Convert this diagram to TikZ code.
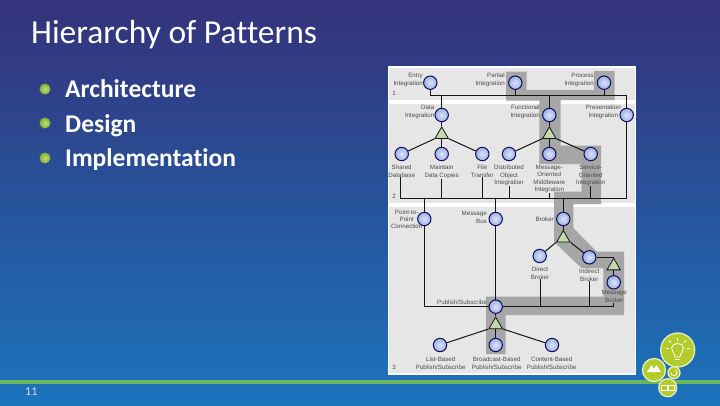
\documentclass[tikz,border=0pt]{standalone}
\usepackage{fontspec}
\setmainfont{Liberation Sans}
\newfontfamily\slidefont[Ligatures=NoCommon]{Carlito}
\usetikzlibrary{shapes.geometric}
\definecolor{hlgray}{HTML}{A6A6A6}
\definecolor{panelgray}{HTML}{E6E6E6}
\definecolor{linecol}{HTML}{141414}
\definecolor{labelcol}{HTML}{4A4A4A}
\definecolor{triFill}{HTML}{C4D8AE}
\definecolor{discOut}{HTML}{9DB0E4}
\definecolor{discIn}{HTML}{DDE4F8}
\definecolor{iconFill}{HTML}{B4CB2C}
\definecolor{iconEdge}{HTML}{E6EFC0}
\definecolor{bulletIn}{HTML}{C4E07A}
\definecolor{bulletOut}{HTML}{7FAE34}
\definecolor{bgTop}{RGB}{52,50,122}
\definecolor{bgMid}{RGB}{44,84,152}
\definecolor{bgBot}{RGB}{27,116,188}
\definecolor{footGreen}{RGB}{109,181,90}
\tikzset{
  disc/.style={circle,draw=linecol!70!blue,line width=1pt,inner color=discIn,outer color=discOut,minimum size=13.4pt,inner sep=0pt},
  tri/.style={regular polygon,regular polygon sides=3,draw=linecol,line width=.8pt,fill=triFill,minimum size=15.4pt,inner sep=0pt},
  lbl/.style={font=\fontsize{6.2}{7.4}\selectfont,text=labelcol,align=center,inner sep=0pt},
  lblr/.style={lbl,align=right,anchor=east},
  wire/.style={draw=linecol,line width=1pt},
  panel/.style={fill=panelgray,draw=none},
  bullet/.style={circle,inner sep=0pt,minimum size=11pt,inner color=bulletIn,outer color=bulletOut},
  bodytext/.style={font=\slidefont\fontsize{25.5}{28}\selectfont\bfseries,text=white,anchor=base west,inner sep=0pt},
  icon/.style={circle,fill=iconFill,draw=iconEdge,line width=1.3pt,inner sep=0pt},
  glyph/.style={draw=white,line width=1pt}
}
\begin{document}
\begin{tikzpicture}[x=1pt,y=-1pt]
\useasboundingbox (0,0) rectangle (720,405);
\shade[top color=bgTop,middle color=bgMid,bottom color=bgBot] (0,0) rectangle (720,405);
\fill[footGreen] (0,380) rectangle (720,384);
\node[font=\slidefont\fontsize{33.5}{38}\selectfont,text=white,anchor=base west,inner sep=0pt] (title) at (31,43.5) {Hierarchy of Patterns};
\node[bullet] (b1) at (45,89) {};
\node[bullet] (b2) at (45,123) {};
\node[bullet] (b3) at (45,158) {};
\node[bodytext] (t1) at (65,97.5) {Architecture};
\node[bodytext] (t2) at (65,132) {Design};
\node[bodytext] (t3) at (65,166.5) {Implementation};
\node[font=\slidefont\fontsize{12}{14}\selectfont,text=white!85!blue,anchor=base west,inner sep=0pt] (pg) at (25,395) {11};
% card
\fill[white] (388,66) rectangle (636,375);
\fill[panel] (389,68) rectangle (635,100);
\fill[panel] (389,103.5) rectangle (635,202.5);
\fill[panel] (389,207) rectangle (635,373);
% highlight
\fill[hlgray] (506,71.7) -- (526.7,71.7) -- (526.7,90) -- (594,90) -- (594,71) -- (614.7,71) -- (614.7,100) -- (560.7,100) -- (560.7,145.7) -- (601,145.7) -- (601,204) -- (573.3,204) -- (573.3,228) -- (596.7,251.7) -- (624,251.7) -- (624,315) -- (505.7,315) -- (505.7,354) -- (486,354) -- (486,296.7) -- (603.3,296.7) -- (603.3,268.3) -- (581.7,268.3) -- (554,241.7) -- (554,191.7) -- (581.7,191.7) -- (581.7,164) -- (539.3,164) -- (539.3,100.7) -- (506,100.7) -- cycle;
% nodes
\node[disc] (entry) at (430.3,82.7) {};
\node[disc] (partial) at (515.3,82.7) {};
\node[disc] (process) at (604,82.7) {};
\node[disc] (data) at (441.7,115) {};
\node[disc] (functional) at (549.3,115) {};
\node[disc] (presentation) at (626.7,115) {};
\node[tri] (triA) at (441.7,134.6) {};
\node[tri] (triB) at (549.3,134.6) {};
\node[disc] (shared) at (401.7,154) {};
\node[disc] (maintain) at (441.7,154) {};
\node[disc] (file) at (482.3,154) {};
\node[disc] (distributed) at (509,154) {};
\node[disc] (mom) at (549.3,154) {};
\node[disc] (soi) at (590.7,154) {};
\node[disc] (p2p) at (424.3,219) {};
\node[disc] (bus) at (495.7,219) {};
\node[disc] (broker) at (563.3,219) {};
\node[tri] (triC) at (563.3,238.2) {};
\node[disc] (direct) at (539.7,256) {};
\node[disc] (indirect) at (589.3,257.3) {};
\node[tri] (triD) at (613.7,266) {};
\node[disc] (msgbroker) at (613.7,282.3) {};
\node[disc] (pubsub) at (495.7,306.7) {};
\node[tri] (triE) at (495.7,324.8) {};
\node[disc] (listb) at (440,345) {};
\node[disc] (broad) at (495.7,345) {};
\node[disc] (content) at (552,345) {};
% labels
\node[lblr] (lEntry) at (423,80) {Entry\\Integration};
\node[lblr] (lPartial) at (505,80) {Partial\\Integration};
\node[lblr] (lProcess) at (594,80) {Process\\Integration};
\node[lblr] (lData) at (434.5,112) {Data\\Integration};
\node[lblr] (lFunc) at (540,112) {Functional\\Integration};
\node[lbl] (lPres) at (603.3,112) {Presentation\\Integration};
\node[lbl,anchor=north] (lShared) at (401.7,165) {Shared\\Database};
\node[lbl,anchor=north] (lMaintain) at (441.7,165) {Maintain\\Data Copies};
\node[lbl,anchor=north] (lFile) at (482.3,165) {File\\Transfer};
\node[lbl,anchor=north] (lDist) at (509,165) {Distributed\\Object\\Integration};
\node[lbl,anchor=north] (lMom) at (549.3,165) {Message-\\Oriented\\Middleware\\Integration};
\node[lbl,anchor=north] (lSoi) at (590.7,165) {Service-\\Oriented\\Integration};
\node[lbl] (lP2p) at (406.7,219.3) {Point-to-\\Point\\Connection};
\node[lblr] (lBus) at (487,217.3) {Message\\Bus};
\node[lblr] (lBroker) at (554,219) {Broker};
\node[lbl,anchor=north] (lDirect) at (540,267) {Direct\\Broker};
\node[lbl,anchor=north] (lIndirect) at (589.3,269) {Indirect\\Broker};
\node[lbl,anchor=north] (lMsgBroker) at (614.3,290.5) {Message\\Broker};
\node[lblr] (lPub) at (487,302.7) {Publish/Subscribe};
\node[lbl,anchor=north] (lList) at (440.7,357) {List-Based\\Publish/Subscribe};
\node[lbl,anchor=north] (lBroad) at (496.7,357) {Broadcast-Based\\Publish/Subscribe};
\node[lbl,anchor=north] (lCont) at (551.7,357) {Content-Based\\Publish/Subscribe};
\node[lbl] (n1) at (394,93.5) {1};
\node[lbl] (n2) at (394,196.7) {2};
\node[lbl] (n3) at (394,367.7) {3};
% bus coordinates
\coordinate (busA) at (430.3,95.7);
\coordinate (busB) at (626.7,95.7);
\coordinate (busC) at (400.7,198.3);
\coordinate (busD) at (626.7,198.3);
\coordinate (busE) at (424.3,306.7);
\coordinate (busF) at (613.7,306.7);
% wires
\draw[wire] (entry) -- (busA) -- (busB) -- (presentation);
\draw[wire] (partial) -- (partial |- busA);
\draw[wire] (process) -- (process |- busA);
\draw[wire] (data) -- (data |- busA);
\draw[wire] (functional) -- (functional |- busA);
\draw[wire] (data) -- (triA.corner 1);
\draw[wire] (functional) -- (triB.corner 1);
\draw[wire] (triA.corner 2) -- (shared);
\draw[wire] (triA.side 2) -- (maintain);
\draw[wire] (triA.corner 3) -- (file);
\draw[wire] (triB.corner 2) -- (distributed);
\draw[wire] (triB.side 2) -- (mom);
\draw[wire] (triB.corner 3) -- (soi);
\draw[wire] (presentation) -- (busD) -- (busC) -- (lShared.south -| busC);
\draw[wire] (lMaintain.south) -- (lMaintain.south |- busC);
\draw[wire] (lFile.south) -- (lFile.south |- busC);
\draw[wire] (lDist.south) -- (lDist.south |- busC);
\draw[wire] (lMom.south) -- (lMom.south |- busC);
\draw[wire] (lSoi.south) -- (lSoi.south |- busC);
\draw[wire] (p2p |- busC) -- (p2p);
\draw[wire] (bus |- busC) -- (bus);
\draw[wire] (broker |- busC) -- (broker);
\draw[wire] (p2p) -- (busE) -- (pubsub);
\draw[wire] (bus) -- (pubsub);
\draw[wire] (pubsub) -- (busF) -- (lMsgBroker.south -| busF);
\draw[wire] (lDirect.south) -- (lDirect.south |- busE);
\draw[wire] (lIndirect.south) -- (lIndirect.south |- busE);
\draw[wire] (broker) -- (triC.corner 1);
\draw[wire] (triC.corner 2) -- (direct);
\draw[wire] (triC.corner 3) -- (indirect);
\draw[wire] (indirect) -- (indirect -| triD) -- (triD.corner 1);
\draw[wire] (triD.side 2) -- (msgbroker);
\draw[wire] (pubsub) -- (triE.corner 1);
\draw[wire] (triE.corner 2) -- (listb);
\draw[wire] (triE.side 2) -- (broad);
\draw[wire] (triE.corner 3) -- (content);
% icons
\node[icon,minimum size=34pt] (ic1) at (677.7,350) {};
\node[icon,minimum size=23pt] (ic2) at (654,370) {};
\node[icon,minimum size=12pt] (ic3) at (674,372.7) {};
\node[icon,minimum size=18pt] (ic4) at (667.7,387.7) {};
% bulb
\draw[glyph,line width=.8pt] (675,357) .. controls (674.5,353) and (671.5,351) .. (671.5,348) .. controls (671.5,342) and (683.5,342) .. (683.5,348) .. controls (683.5,351) and (680.5,353) .. (680,357) -- cycle;
\draw[glyph,line width=.8pt] (675,359.5) -- (680,359.5);
\draw[glyph,line width=.8pt] (677.5,337.5) -- (677.5,340.5);
\draw[glyph,line width=.8pt] (669,340.5) -- (671,342.5);
\draw[glyph,line width=.8pt] (686,340.5) -- (684,342.5);
\draw[glyph,line width=.8pt] (665.5,348) -- (668.5,348);
\draw[glyph,line width=.8pt] (689.5,348) -- (686.5,348);
% scales
\fill[white] (647,372) -- (651.5,365) -- (656,372) -- cycle;
\fill[white] (652,372) -- (656.5,365) -- (661,372) -- cycle;
% small arrow
\draw[glyph,line width=.8pt] (671,372.7) arc[start angle=180,end angle=420,radius=3pt];
% chain
\draw[glyph] (661,385) rectangle (667,390);
\draw[glyph] (668.5,385) rectangle (674.5,390);
\end{tikzpicture}
\end{document}
